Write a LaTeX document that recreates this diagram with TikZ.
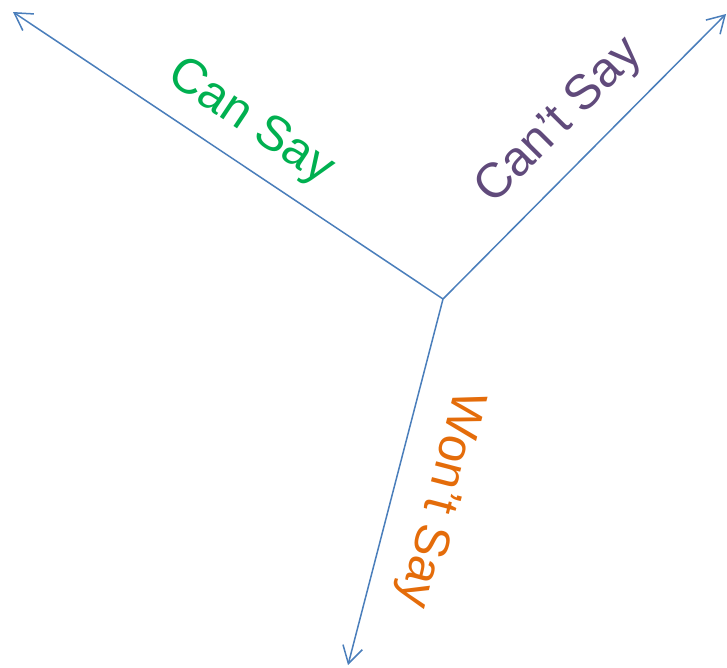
\documentclass[tikz,border=0pt]{standalone}
\usepackage{fontspec}
\setmainfont{Liberation Sans}
\usetikzlibrary{arrows.meta}

\definecolor{axisblue}{HTML}{4A7EBB}
\definecolor{cangreen}{HTML}{00B050}
\definecolor{cantpurple}{HTML}{604A7B}
\definecolor{wontorange}{HTML}{E46C0A}

\begin{document}
\begin{tikzpicture}[
  x=1pt, y=-1pt,
  axis/.style={
    draw=axisblue, line width=1.5pt,
    -{Straight Barb[length=17pt, width=20pt]}
  },
  label/.style={
    inner sep=0pt, font=\fontsize{49}{59}\selectfont
  },
]
\useasboundingbox (0,0) rectangle (727,667);

% Hub and the three axis ends
\coordinate (hub)     at (443, 299);
\coordinate (canEnd)  at (13, 12);
\coordinate (cantEnd) at (726, 14);
\coordinate (wontEnd) at (348, 665);

% Axes
\draw[axis] (hub) -- (canEnd);
\draw[axis] (hub) -- (cantEnd);
\draw[axis] (hub) -- (wontEnd);

% Axis labels
\node[label, text=cangreen, rotate=-33.7]    (canLbl)  at (250, 123) {Can Say};
\node[label, text=cantpurple, rotate=45.2]   (cantLbl) at (560, 122) {Can’t Say};
\node[label, text=wontorange, rotate=-104.6] (wontLbl) at (439, 499) {Won’t Say};

\end{tikzpicture}
\end{document}
